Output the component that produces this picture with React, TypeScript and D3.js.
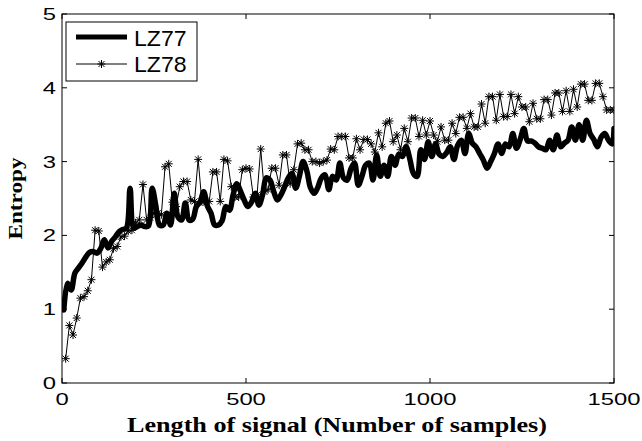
import React from "react";
import * as d3 from "d3";

// ---- data ----
const X_TICKS = [0, 500, 1000, 1500];
const Y_TICKS = [0, 1, 2, 3, 4, 5];
const SERIES_NAMES = ["LZ77", "LZ78"];

// LZ78: samples 10..1500 step 10
const LZ78_X = d3.range(10, 1501, 10);
const LZ78 = [
  0.33, 0.78, 0.65, 0.88, 1.15, 1.17, 1.25, 1.40, 2.07, 2.06,
  1.57, 1.64, 1.67, 1.82, 1.85, 1.98, 1.99, 2.06, 2.07, 2.17,
  2.21, 2.69, 2.21, 2.24, 2.30, 2.30, 2.28, 2.93, 2.97, 2.45,
  2.39, 2.66, 2.73, 2.73, 2.48, 2.46, 3.03, 2.46, 2.44, 2.46,
  2.86, 2.86, 2.46, 3.03, 3.01, 2.66, 2.52, 2.52, 2.89, 2.91,
  2.90, 2.52, 2.55, 3.17, 2.59, 2.62, 2.91, 2.91, 2.68, 3.09,
  3.09, 2.70, 2.89, 3.24, 3.25, 3.16, 3.16, 3.00, 3.00, 2.98,
  3.00, 3.02, 3.17, 3.16, 3.34, 3.34, 3.34, 3.05, 3.05, 3.31,
  3.16, 3.30, 3.30, 3.24, 3.13, 3.39, 3.20, 3.52, 3.55, 3.27,
  3.36, 3.16, 3.45, 3.27, 3.59, 3.59, 3.34, 3.56, 3.36, 3.55,
  3.36, 3.27, 3.47, 3.29, 3.29, 3.52, 3.38, 3.60, 3.60, 3.45,
  3.65, 3.47, 3.47, 3.78, 3.52, 3.88, 3.88, 3.56, 3.91, 3.61,
  3.61, 3.91, 3.65, 3.88, 3.74, 3.74, 3.54, 3.79, 3.58, 3.58,
  3.84, 3.84, 3.63, 3.93, 3.93, 3.68, 3.96, 3.68, 3.98, 3.74,
  4.05, 4.05, 3.83, 3.83, 4.06, 4.06, 3.88, 3.70, 3.70, 3.70,
];

// LZ77: samples 5..1495 step 10, then 1500
const LZ77_X = [...d3.range(5, 1500, 10), 1500];
const LZ77 = [
  0.99, 1.35, 1.26, 1.49, 1.56, 1.63, 1.71, 1.77, 1.78, 1.76,
  1.82, 1.94, 1.83, 1.92, 1.98, 2.05, 2.08, 2.10, 2.64, 2.10,
  2.12, 2.14, 2.12, 2.13, 2.64, 2.40, 2.14, 2.14, 2.30, 2.14,
  2.57, 2.25, 2.21, 2.44, 2.21, 2.22, 2.39, 2.45, 2.59, 2.40,
  2.30, 2.14, 2.14, 2.20, 2.39, 2.34, 2.55, 2.70, 2.60, 2.48,
  2.39, 2.45, 2.57, 2.41, 2.55, 2.78, 2.75, 2.60, 2.48, 2.55,
  2.66, 2.78, 2.84, 2.64, 2.80, 3.00, 2.88, 2.65, 2.57, 2.65,
  2.78, 2.82, 2.62, 2.80, 2.75, 2.98, 2.78, 2.75, 2.90, 2.98,
  2.68, 2.80, 2.95, 2.98, 2.75, 3.09, 2.80, 2.95, 2.80, 3.07,
  2.95, 3.10, 3.07, 3.20, 3.04, 2.84, 2.80, 3.16, 3.03, 3.27,
  3.07, 3.24, 3.10, 3.07, 3.12, 3.20, 3.03, 3.22, 3.29, 3.11,
  3.38, 3.25, 3.20, 3.11, 3.02, 2.91, 3.00, 3.11, 3.24, 3.11,
  3.24, 3.20, 3.38, 3.18, 3.30, 3.45, 3.28, 3.28, 3.25, 3.20,
  3.18, 3.16, 3.29, 3.16, 3.36, 3.20, 3.25, 3.29, 3.47, 3.29,
  3.50, 3.29, 3.56, 3.38, 3.30, 3.20, 3.33, 3.38, 3.29, 3.24,
  3.45,
];

const W = 642;
const H = 441;
const PL = 62, PR = 614, PT = 14, PB = 383;

const STAR = "M-4,0H4M0,-4V4M-3,-3L3,3M-3,3L3,-3";

export default function App() {
  const x = d3.scaleLinear().domain([0, 1500]).range([PL, PR]);
  const y = d3.scaleLinear().domain([0, 5]).range([PB, PT]);

  const lz77pts: [number, number][] = LZ77.map((v, i) => [LZ77_X[i], v]);
  const lz78pts: [number, number][] = LZ78.map((v, i) => [LZ78_X[i], v]);

  const line77 = d3
    .line<[number, number]>()
    .x((d) => x(d[0]))
    .y((d) => y(d[1]))
    .curve(d3.curveCatmullRom.alpha(0.5));
  const line78 = d3
    .line<[number, number]>()
    .x((d) => x(d[0]))
    .y((d) => y(d[1]));

  const tickLen = 5;
  const sans = "'Liberation Sans', Arial, sans-serif";
  const serif = "'Liberation Serif', 'Times New Roman', serif";

  return (
    <svg
      width={W}
      height={H}
      style={{ position: "absolute", left: 0, top: 0, background: "#fff" }}
    >
      <rect x={0} y={0} width={W} height={H} fill="#fff" />
      <defs>
        <clipPath id="plotclip">
          <rect x={PL} y={PT} width={PR - PL} height={PB - PT} />
        </clipPath>
      </defs>

      {/* data */}
      <g clipPath="url(#plotclip)">
        <path
          d={line77(lz77pts) || ""}
          fill="none"
          stroke="#000"
          strokeWidth={5.5}
          strokeLinejoin="round"
          strokeLinecap="round"
        />
        <path d={line78(lz78pts) || ""} fill="none" stroke="#000" strokeWidth={1} />
        {lz78pts.map((d, i) => (
          <path
            key={i}
            d={STAR}
            transform={`translate(${x(d[0])},${y(d[1])})`}
            stroke="#000"
            strokeWidth={1}
            fill="none"
          />
        ))}
      </g>

      {/* box */}
      <rect x={PL} y={PT} width={PR - PL} height={PB - PT} fill="none" stroke="#000" strokeWidth={1} />

      {/* x ticks */}
      {X_TICKS.map((t) => (
        <g key={"xt" + t}>
          <line x1={x(t)} x2={x(t)} y1={PB} y2={PB - tickLen} stroke="#000" />
          <line x1={x(t)} x2={x(t)} y1={PT} y2={PT + tickLen} stroke="#000" />
          <text
            transform={`translate(${x(t)},405) scale(1.4,1)`}
            textAnchor="middle"
            fontFamily={sans}
            fontSize={17}
            fill="#000"
          >
            {t}
          </text>
        </g>
      ))}

      {/* y ticks */}
      {Y_TICKS.map((t) => (
        <g key={"yt" + t}>
          <line x1={PL} x2={PL + tickLen} y1={y(t)} y2={y(t)} stroke="#000" />
          <line x1={PR} x2={PR - tickLen} y1={y(t)} y2={y(t)} stroke="#000" />
          <text
            transform={`translate(56,${y(t) + 6}) scale(1.4,1)`}
            textAnchor="end"
            fontFamily={sans}
            fontSize={17}
            fill="#000"
          >
            {t}
          </text>
        </g>
      ))}

      {/* axis titles */}
      <text
        x={337}
        y={432}
        textAnchor="middle"
        fontFamily={serif}
        fontWeight="bold"
        fontSize={22}
        textLength={420}
        lengthAdjust="spacingAndGlyphs"
        fill="#000"
      >
        Length of signal (Number of samples)
      </text>
      <text
        transform={`translate(22,${(PT + PB) / 2}) rotate(-90)`}
        textAnchor="middle"
        fontFamily={serif}
        fontWeight="bold"
        fontSize={18}
        textLength={82}
        lengthAdjust="spacingAndGlyphs"
        fill="#000"
      >
        Entropy
      </text>

      {/* legend */}
      <g>
        <rect x={66} y={22} width={131} height={59} fill="#fff" stroke="#000" strokeWidth={1} />
        <line x1={76} x2={127} y1={37} y2={37} stroke="#000" strokeWidth={5} />
        <line x1={76} x2={127} y1={64} y2={64} stroke="#000" strokeWidth={1} />
        <path d={STAR} transform="translate(101.5,64)" stroke="#000" fill="none" />
        <text transform="translate(134,46) scale(1.05,1)" fontFamily={sans} fontSize={22} fill="#000">
          {SERIES_NAMES[0]}
        </text>
        <text transform="translate(134,72) scale(1.05,1)" fontFamily={sans} fontSize={22} fill="#000">
          {SERIES_NAMES[1]}
        </text>
      </g>
    </svg>
  );
}
